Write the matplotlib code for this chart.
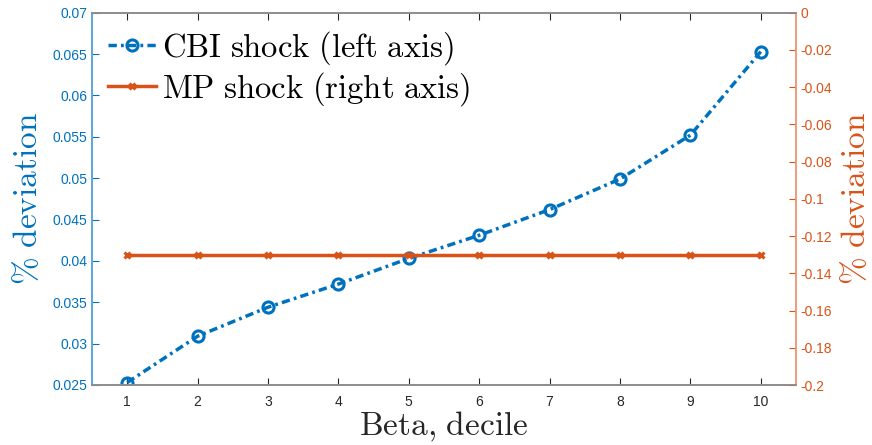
import matplotlib
matplotlib.use("Agg")
import matplotlib.pyplot as plt
import numpy as np

plt.rcParams['mathtext.fontset'] = 'cm'
plt.rcParams['font.family'] = ['Liberation Sans', 'DejaVu Sans']

deciles = [1, 2, 3, 4, 5, 6, 7, 8, 9, 10]
cbi_shock = [0.0253, 0.0309, 0.0344, 0.0372, 0.0403, 0.0431, 0.0462, 0.0499, 0.0552, 0.0653]
mp_shock = [-0.13, -0.13, -0.13, -0.13, -0.13, -0.13, -0.13, -0.13, -0.13, -0.13]
left_ticks = [0.025, 0.03, 0.035, 0.04, 0.045, 0.05, 0.055, 0.06, 0.065, 0.07]
left_labels = ['0.025', '0.03', '0.035', '0.04', '0.045', '0.05', '0.055', '0.06', '0.065', '0.07']
right_ticks = [-0.2, -0.18, -0.16, -0.14, -0.12, -0.1, -0.08, -0.06, -0.04, -0.02, 0]
right_labels = ['-0.2', '-0.18', '-0.16', '-0.14', '-0.12', '-0.1', '-0.08', '-0.06', '-0.04', '-0.02', '0']

blue = '#0072BD'
orange = '#D95319'

fig = plt.figure(figsize=(8.72, 4.45), dpi=100)
ax = fig.add_axes([92/872, 60/445, (796-92)/872, (385-12.7)/445])
ax2 = ax.twinx()

l1, = ax.plot(deciles, cbi_shock, linestyle='-.', color=blue, linewidth=2.5,
              marker='o', markersize=8, markerfacecolor='none', markeredgewidth=2.2)
l1.set_dashes((2.4, 1.2, 0.8, 1.2))
l2, = ax2.plot(deciles, mp_shock, linestyle='-', color=orange, linewidth=2.5,
               marker='x', markersize=5, markeredgewidth=2.2)

ax.set_xlim(0.5, 10.5)
ax.set_ylim(0.025, 0.07)
ax2.set_ylim(-0.2, 0)
ax.set_xticks(deciles)
ax.set_xticklabels([str(d) for d in deciles])
ax.set_yticks(left_ticks)
ax.set_yticklabels(left_labels)
ax2.set_yticks(right_ticks)
ax2.set_yticklabels(right_labels)

for a in (ax, ax2):
    a.tick_params(direction='in', length=5, width=0.8, labelsize=10)
ax.tick_params(axis='x', top=True, colors='#262626', labelcolor='#262626', pad=7)
ax.tick_params(axis='y', colors=blue, labelcolor=blue)
ax2.tick_params(axis='y', colors=orange, labelcolor=orange)

for a in (ax, ax2):
    a.spines['top'].set_color('#8c8c8c')
    a.spines['bottom'].set_color('#8c8c8c')
    a.spines['left'].set_color('#5aa6d9')
    a.spines['right'].set_color('#ec9c7a')
    for s in a.spines.values():
        s.set_linewidth(1.2)

ax.set_xlabel(r'$\mathrm{Beta{,}\ decile}$', fontsize=24, color='#262626', labelpad=1)
ax.set_ylabel(r'$\%\ \mathrm{deviation}$', fontsize=24, color=blue, labelpad=6)
ax2.set_ylabel(r'$\%\ \mathrm{deviation}$', fontsize=24, color=orange, labelpad=6)

leg = ax.legend([l1, l2], [r'$\mathrm{CBI\ shock\ (left\ axis)}$', r'$\mathrm{MP\ shock\ (right\ axis)}$'],
                loc='upper left', frameon=False, fontsize=23.5, handlelength=1.45,
                handletextpad=0.2, borderaxespad=0.1, borderpad=0.4, labelspacing=0.08)

fig.savefig('out.png', dpi=100)
